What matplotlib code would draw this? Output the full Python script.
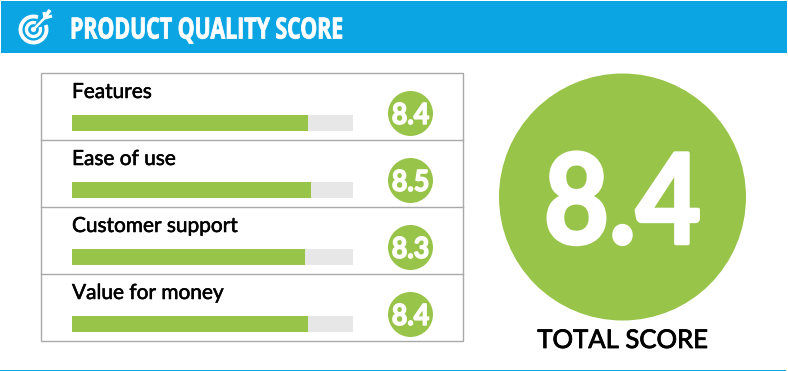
import matplotlib
matplotlib.use('Agg')
import matplotlib.pyplot as plt
import matplotlib.patheffects as pe
from matplotlib.patches import Rectangle, Circle, Arc
from matplotlib.transforms import Affine2D

W, H = 788, 371
BLUE = '#0ba5e4'
GREEN = '#99c44a'
TRACK = '#e7e7e7'
FRAME = '#a9a9a9'

title = 'PRODUCT QUALITY SCORE'
categories = ['Features', 'Ease of use', 'Customer support', 'Value for money']
scores = [8.4, 8.5, 8.3, 8.4]
max_score = 10
total_score = 8.4
total_label = 'TOTAL SCORE'


class Squeeze(pe.AbstractPathEffect):
    # no condensed font installed, so squash the glyphs sideways around x0 (pixels)
    def __init__(self, sx, x0, lw=0):
        super().__init__()
        self.sx, self.x0, self.lw = sx, x0, lw

    def draw_path(self, renderer, gc, tpath, affine, rgbFace=None):
        squeeze = Affine2D().translate(-self.x0, 0).scale(self.sx, 1).translate(self.x0, 0)
        gc0 = renderer.new_gc()
        gc0.copy_properties(gc)
        if self.lw:
            gc0.set_linewidth(self.lw)
            gc0.set_foreground(rgbFace)
        else:
            gc0.set_linewidth(0)
        renderer.draw_path(gc0, tpath, affine + squeeze, rgbFace)
        gc0.restore()


fig = plt.figure(figsize=(W / 100, H / 100), dpi=100, facecolor='white')

# whole figure in pixel coords, y pointing down
bg = fig.add_axes([0, 0, 1, 1])
bg.set_xlim(0, W)
bg.set_ylim(H, 0)
bg.axis('off')

# header band and bottom rule
bg.add_patch(Rectangle((1, 1), 786, 51.5, fc=BLUE, ec='none'))
bg.add_patch(Rectangle((0, 369.5), 786, 1.5, fc=BLUE, ec='none'))
t = bg.text(70, 31, title, color='white', fontsize=21, fontweight='bold',
            family='Open Sans', va='center', ha='left')
t.set_path_effects([Squeeze(0.73, 70, lw=0.6)])

# target icon
bg.add_patch(Arc((33.5, 29.5), 26, 26, theta1=-20, theta2=290, ec='white', lw=2.8))
bg.add_patch(Arc((33.5, 29.5), 14, 14, theta1=-20, theta2=290, ec='white', lw=2.4))
bg.add_patch(Circle((33.5, 29.5), 2.6, fc='white', ec='none'))
bg.plot([33.5, 47], [29.5, 15.5], color='white', lw=1.8, solid_capstyle='butt')
bg.plot([44, 45, 52], [12, 18, 16], color='white', lw=2.2, solid_capstyle='butt')
bg.plot([45, 50], [17, 10], color='white', lw=2.6, solid_capstyle='butt')

# table frame
bg.add_patch(Rectangle((41, 73), 422, 268, fc='none', ec=FRAME, lw=1))
for i in range(1, len(categories)):
    bg.plot([41, 463], [73 + 67 * i] * 2, color=FRAME, lw=1)

# score bars
ax = fig.add_axes([72 / W, 1 - 341 / H, 281 / W, 268 / H])
ax.set_xlim(0, max_score)
ax.set_ylim((341 - 123) / 67, -50 / 67)
ax.axis('off')
ax.patch.set_alpha(0)
rows = range(len(categories))
ax.barh(rows, [max_score] * len(scores), height=16 / 67, color=TRACK)
ax.barh(rows, scores, height=16 / 67, color=GREEN)

for i, (name, score) in enumerate(zip(categories, scores)):
    y = 73.5 + 67 * i
    t = bg.text(72, y + 18.5, name, fontsize=15, family='Lato', color='black',
                va='center', ha='left')
    t.set_path_effects([pe.withStroke(linewidth=0.4, foreground='black')])
    bg.add_patch(Circle((410.5, y + 40), 22.5, fc=GREEN, ec='none'))
    t = bg.text(410.5, y + 40, '%.1f' % score, fontsize=21, family='Lato',
                fontweight='bold', color='white', va='center_baseline', ha='center')
    t.set_path_effects([Squeeze(0.92, 410.5, lw=1.0)])

# total score
bg.add_patch(Circle((622.5, 197), 123.5, fc=GREEN, ec='none'))
t = bg.text(622.5, 197, '%.1f' % total_score, fontsize=90, family='Lato',
            fontweight='bold', color='white', va='center_baseline', ha='center')
t.set_path_effects([Squeeze(0.9, 622.5, lw=2.5)])
t = bg.text(623, 340.5, total_label, fontsize=18.5, family='Lato', color='black',
            va='center', ha='center')
t.set_path_effects([pe.withStroke(linewidth=0.6, foreground='black')])

fig.savefig('out.png', dpi=100)
